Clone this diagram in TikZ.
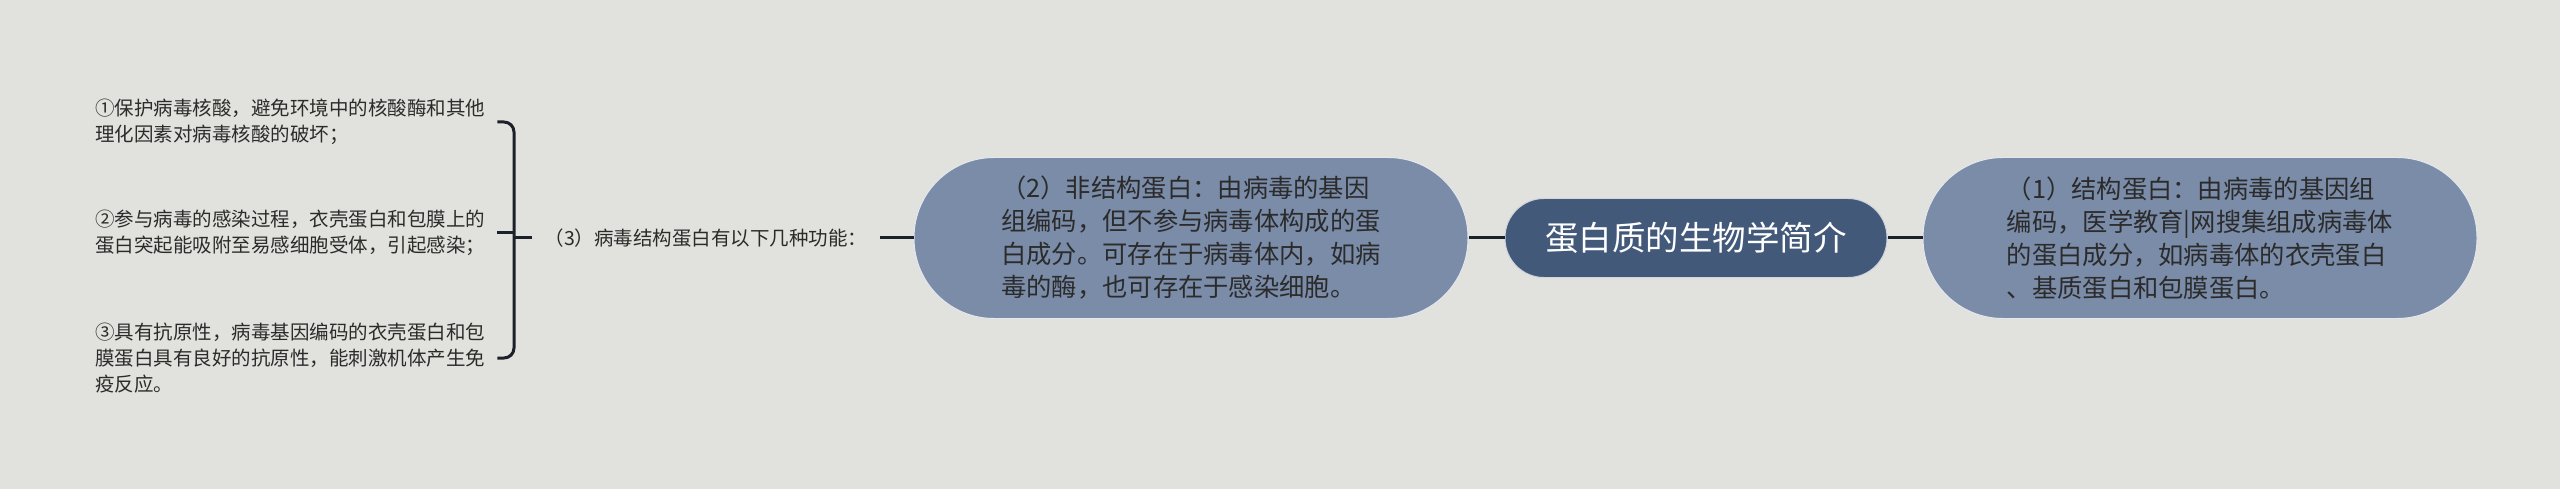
\documentclass[tikz,border=0pt]{standalone}
\usepackage{fontspec}
\setmainfont{Noto Sans CJK SC}
\usetikzlibrary{calc}
\definecolor{bgcol}{RGB}{225,226,221}
\definecolor{leafcol}{RGB}{122,140,168}
\definecolor{rootcol}{RGB}{66,89,122}
\definecolor{linecol}{RGB}{27,32,42}
\definecolor{txtcol}{RGB}{43,43,43}

\begin{document}
\begin{tikzpicture}[x=1pt, y=-1pt,
  leafbox/.style={rectangle, rounded corners=80pt, fill=leafcol, draw=white!80!leafcol, line width=1pt,
    minimum width=554pt, minimum height=161pt, align=left, text=txtcol, font=\fontsize{25.3}{33}\selectfont},
  rootbox/.style={rectangle, rounded corners=39pt, fill=rootcol, draw=white!75!rootcol, line width=1pt,
    minimum width=382pt, minimum height=79pt, text=white, font=\fontsize{33.5}{40}\selectfont},
  textitem/.style={align=left, inner xsep=12pt, text=txtcol, font=\fontsize{19.5}{26}\selectfont},
  conn/.style={draw=linecol, line width=3pt}]
\useasboundingbox (0,0) rectangle (2560,489);
\fill[bgcol] (0,0) rectangle (2560,489);

\node[rootbox] (root) at (1696,238) {蛋白质的生物学简介};
\node[leafbox] (n1) at (2200,238) {（1）结构蛋白：由病毒的基因组\\编码，医学教育|网搜集组成病毒体\\的蛋白成分，如病毒体的衣壳蛋白\\、基质蛋白和包膜蛋白。};
\node[leafbox] (n2) at (1191,238) {（2）非结构蛋白：由病毒的基因\\组编码，但不参与病毒体构成的蛋\\白成分。可存在于病毒体内，如病\\毒的酶，也可存在于感染细胞。};
\node[textitem] (f3) at (706,238) {（3）病毒结构蛋白有以下几种功能：};

\node[textitem, anchor=west] (i1) at (83,122) {①保护病毒核酸，避免环境中的核酸酶和其他\\理化因素对病毒核酸的破坏；};
\node[textitem, anchor=west] (i2) at (83,233) {②参与病毒的感染过程，衣壳蛋白和包膜上的\\蛋白突起能吸附至易感细胞受体，引起感染；};
\node[textitem, anchor=west] (i3) at (83,358) {③具有抗原性，病毒基因编码的衣壳蛋白和包\\膜蛋白具有良好的抗原性，能刺激机体产生免\\疫反应。};

\draw[conn] (root.east) -- (n1.west);
\draw[conn] (root.west) -- (n2.east);
\draw[conn] (n2.west) -- (f3.east);

\coordinate (bx) at (514,0);
\draw[conn, rounded corners=10pt] (i1.east) -| (bx |- i2.east) |- (i3.east);
\draw[conn] (i2.east) -- (bx |- i2.east);
\draw[conn] (f3.west) -- (bx |- f3.west);
\end{tikzpicture}
\end{document}
